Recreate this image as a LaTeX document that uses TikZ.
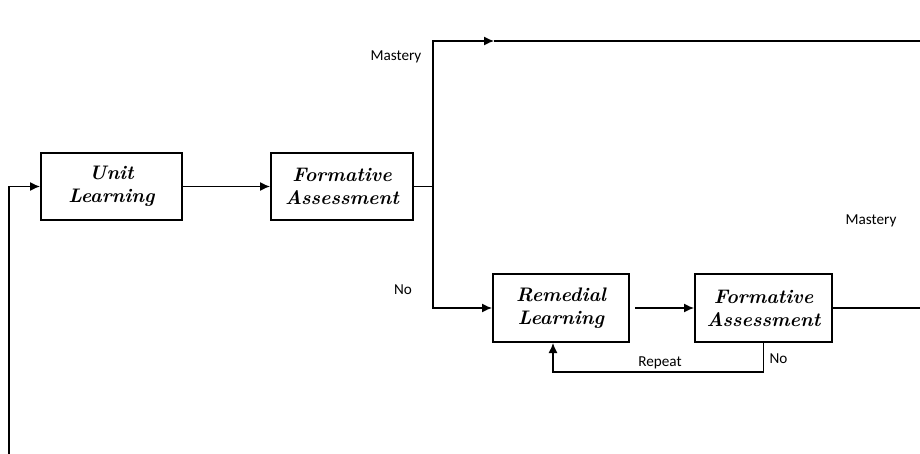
\documentclass[tikz,border=0pt]{standalone}
\usepackage{fontspec}
\newfontfamily\labelfont{Carlito}
\usepackage{tikz}
\usetikzlibrary{arrows.meta}
\usetikzlibrary{positioning}
\usetikzlibrary{calc}
\tikzstyle{stage}=[draw,line width=1pt,rectangle,align=center,inner sep=2pt,font=\fontsize{9.8}{11.5}\selectfont\bfseries\itshape]
\tikzstyle{tag}=[font=\labelfont\fontsize{7.6}{9}\selectfont,inner sep=1pt]
\tikzstyle{flow}=[line width=0.65pt,-{Latex[length=5pt,width=4.5pt]}]

\begin{document}
\begin{tikzpicture}[x=0.5pt,y=-0.5pt,line width=0.65pt]
\useasboundingbox (0,0) rectangle (920,454);
    \node [stage,minimum width=70.5pt,minimum height=33.5pt] (u) at (111.5,186.5) {Unit\\Learning};
    \node [stage,minimum width=71pt,minimum height=33.5pt] (f) at (342,186.5) {Formative\\Assessment};
    \node [stage,minimum width=68pt,minimum height=34pt] (r) at (561,308) {Remedial\\Learning};
    \node [stage,minimum width=68.5pt,minimum height=34pt] (g) at (763.5,308) {Formative\\Assessment};

\coordinate (S) at (9,454);
\coordinate (B) at (433,186.5);
\coordinate (M) at (494,41);
\coordinate (E) at (920,41);
\coordinate (R) at (920,308);
\coordinate (L) at (763.5,372);
\coordinate (K) at (553,372);

% main line
\draw[flow] (S) |- (u.west);
\draw[flow] (u) -- (f);
\draw (f.east) -- (B);
% mastery
\draw[flow] (B) |- (M);
\draw (M) -- (E);
% no
\draw[flow] (B) |- (r.west);
\draw[flow,shorten <=2.5pt] (r) -- (g);
\draw (g.east) -- (R);
% repeat loop
\draw[flow] (g.south) -- (L) -- (K) -- (r.south -| K);

\node [tag,anchor=east] at (424,57) {Mastery};
\node [tag] at (403,290) {No};
\node [tag] at (871,221) {Mastery};
\node [tag] at (660,363) {Repeat};
\node [tag,anchor=west] at (767,359) {No};
\end{tikzpicture}
\end{document}
